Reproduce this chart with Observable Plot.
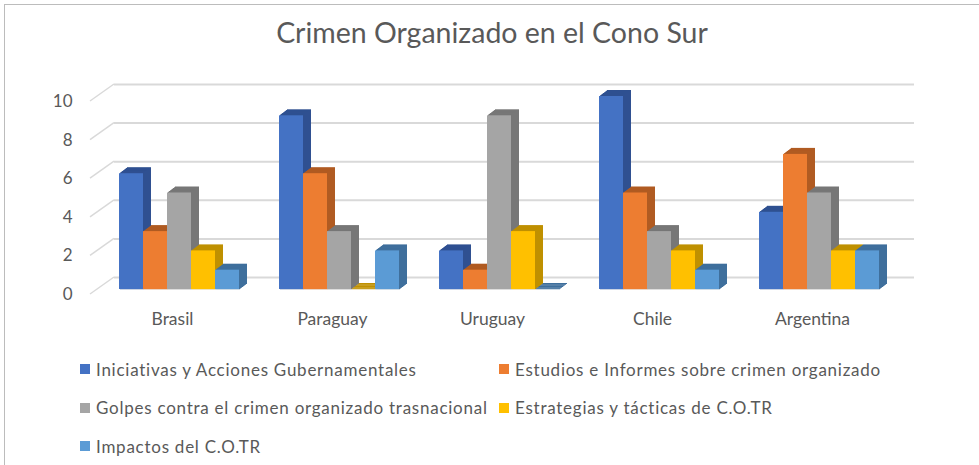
<!DOCTYPE html>
<html><head><meta charset="utf-8">
<script src="https://cdn.jsdelivr.net/npm/d3@7"></script>
<script src="https://cdn.jsdelivr.net/npm/@observablehq/plot@0.6"></script>
<style>
html,body{margin:0;padding:0;background:#fff;overflow:hidden;width:979px;height:465px;}
#wrap{position:relative;width:979px;height:465px;font-family:Lato,sans-serif;color:#595959;overflow:hidden;}
#border{position:absolute;left:4px;top:4px;width:1100px;height:600px;border:1px solid #bcbcbc;}
#title{position:absolute;left:0;width:984px;top:14px;text-align:center;font-size:28.5px;line-height:36px;}
#chart{position:absolute;left:0;top:60px;}
#legend{position:absolute;left:80px;top:350px;display:grid;grid-template-columns:419px auto;grid-auto-rows:38.5px;font-size:17px;letter-spacing:0.75px;}
.item{display:flex;align-items:center;white-space:nowrap;}
.sw{display:inline-block;width:10px;height:10px;margin-right:6px;}
</style></head>
<body><div id="wrap"><div id="border"></div>
<div id="title">Crimen Organizado en el Cono Sur</div>
<div id="chart"></div>
<div id="legend"></div>
</div>
<script>
const countries = ["Brasil", "Paraguay", "Uruguay", "Chile", "Argentina"];
const seriesNames = [
  "Iniciativas y Acciones Gubernamentales",
  "Estudios e Informes sobre crimen organizado",
  "Golpes contra el crimen organizado trasnacional",
  "Estrategias y tácticas de C.O.TR",
  "Impactos del C.O.TR"
];
const iniciativas = [6, 9, 2, 10, 4];
const estudios    = [3, 6, 1, 5, 7];
const golpes      = [5, 3, 9, 3, 5];
const estrategias = [2, 0, 3, 2, 2];
const impactos    = [1, 2, 0, 1, 2];
const frontColors = ["#4472C4", "#ED7D31", "#A5A5A5", "#FFC000", "#5B9BD5"];
const sideColors  = ["#2F5091", "#B05B22", "#777777", "#BF9000", "#3F6F9C"];
const yTicks = [0, 2, 4, 6, 8, 10];

const seriesValues = [iniciativas, estudios, golpes, estrategias, impactos];
const rows = [];
countries.forEach((c, ci) => seriesNames.forEach((s, si) => rows.push({country: c, series: s, value: seriesValues[si][ci]})));
const front = Object.fromEntries(seriesNames.map((s, i) => [s, frontColors[i]]));
const side = Object.fromEntries(seriesNames.map((s, i) => [s, sideColors[i]]));

// 3D depth of the bars (px) rendered as stacked shifted layers
const depthSteps = d3.range(8, 0, -1);
const depthLayers = depthSteps.map(k => Plot.barY(rows, {
  fx: "country", x: "series", y: "value",
  fill: d => side[d.series], dx: k, dy: -0.75 * k, insetBottom: -1
}));

let diagDrawn = false;
const floorDiagonals = (index, scales, values, dims) => {
  if (diagDrawn) return null;
  diagDrawn = true;
  const g = d3.create("svg:g").attr("stroke", "#d9d9d9").attr("stroke-width", 1.5);
  const L = dims.marginLeft;
  for (const v of yTicks) {
    const y = scales.y(v);
    g.append("line").attr("x1", L - 9).attr("y1", y + 5).attr("x2", L + 15).attr("y2", y - 12);
  }
  return g.node();
};

const chart = Plot.plot({
  width: 979, height: 280,
  marginLeft: 99, marginRight: 80, marginTop: 36, marginBottom: 51,
  style: {fontFamily: "Lato, sans-serif", color: "#595959", background: "transparent", overflow: "visible"},
  fx: {domain: countries, padding: 0},
  x: {domain: seriesNames, paddingInner: 0, paddingOuter: 0.725, axis: null},
  y: {domain: [0, 10]},
  color: {type: "identity"},
  marks: [
    Plot.ruleY(yTicks, {stroke: "#d9d9d9", strokeWidth: 2, dx: 15, dy: -12}),
    floorDiagonals,
    ...depthLayers,
    Plot.barY(rows, {fx: "country", x: "series", y: "value", fill: d => front[d.series]}),
    Plot.axisY({ticks: yTicks, tickSize: 0, tickPadding: 27, dy: 5, fontSize: 17, label: null}),
    Plot.axisFx({anchor: "bottom", tickSize: 0, tickPadding: 23, dx: -7, fontSize: 17.5, label: null})
  ]
});
document.getElementById("chart").appendChild(chart);

const legend = document.getElementById("legend");
seriesNames.forEach((s, i) => {
  const it = document.createElement("div");
  it.className = "item";
  it.innerHTML = `<span class="sw" style="background:${frontColors[i]}"></span><span>${s}</span>`;
  legend.appendChild(it);
});
</script></body></html>
